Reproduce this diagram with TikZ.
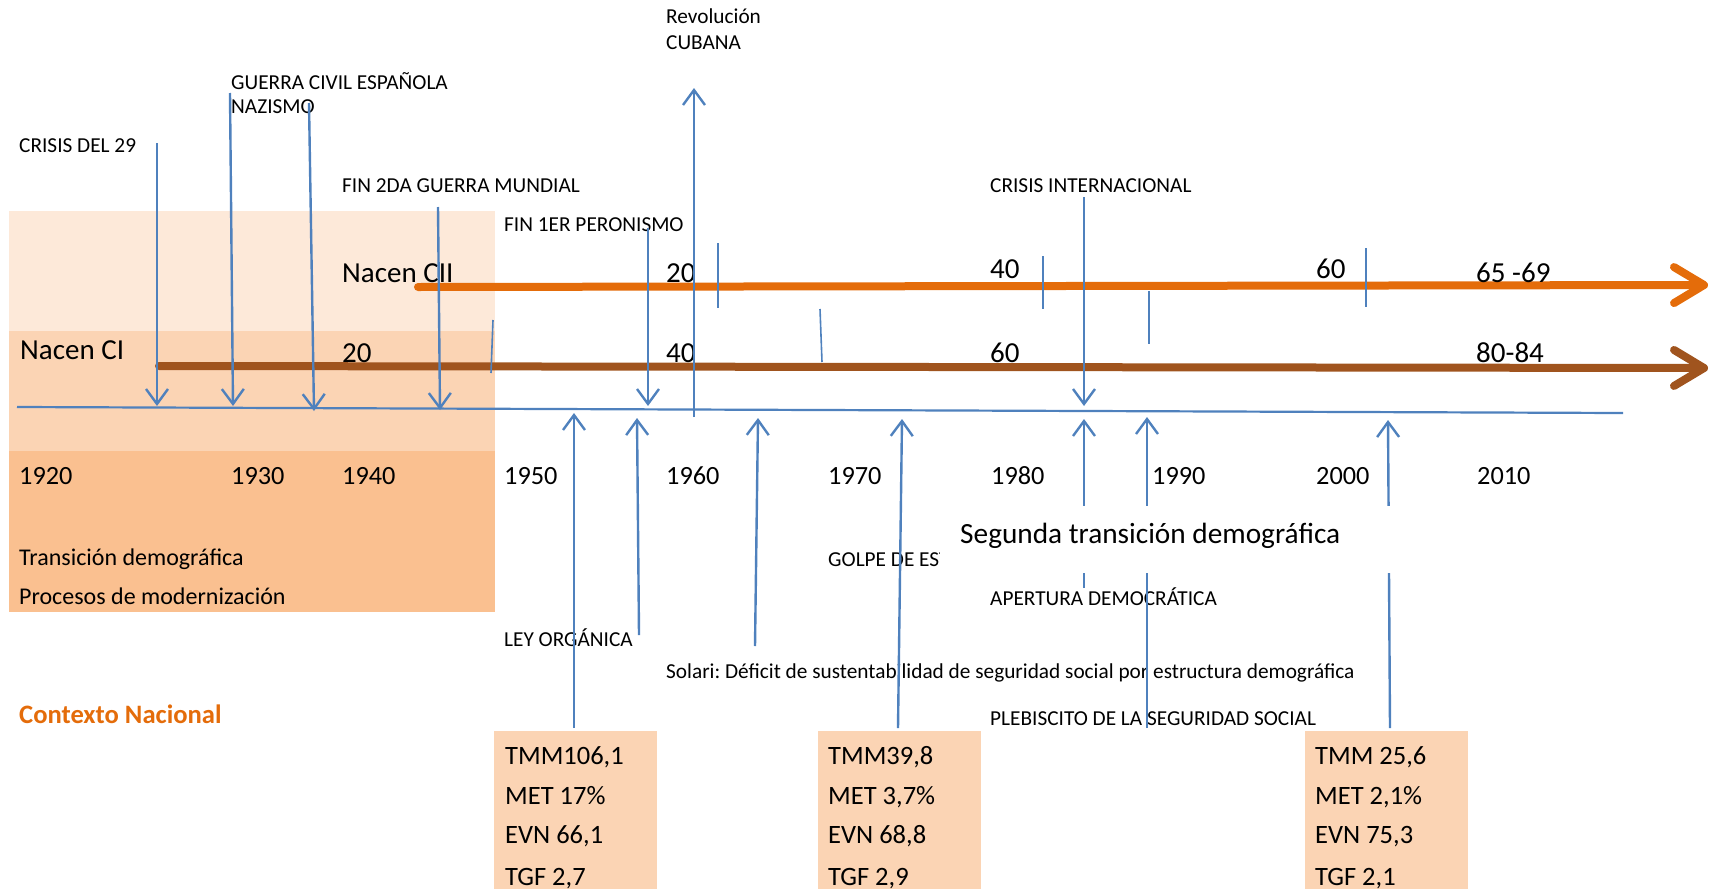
\documentclass[tikz,border=0pt]{standalone}
\usepackage{fontspec}
\setmainfont{Carlito}
\usetikzlibrary{arrows.meta}
\definecolor{bl}{HTML}{4F81BD}
\definecolor{org}{HTML}{E46C0A}
\definecolor{brn}{HTML}{A0541E}
\definecolor{pkA}{HTML}{FDE9D9}
\definecolor{pkB}{HTML}{FBD4B4}
\definecolor{pkC}{HTML}{FAC090}
\frenchspacing
\begin{document}
\begin{tikzpicture}[x=1pt,y=-1pt,
  lbl/.style={anchor=base west, inner sep=0pt, font=\fontsize{21.3}{25}\selectfont},
  yr/.style={anchor=base west, inner sep=0pt, font=\fontsize{26.3}{30}\selectfont},
  big/.style={anchor=base west, inner sep=0pt, font=\fontsize{29}{34}\selectfont},
  midtxt/.style={anchor=base west, inner sep=0pt, font=\fontsize{24}{28}\selectfont},
  bxt/.style={anchor=base west, inner sep=0pt, font=\fontsize{26.5}{30}\selectfont},
  ev/.style={draw=bl, line width=2.4pt, -{Straight Barb[length=15pt,width=22pt]}},
  tickline/.style={draw=bl, line width=1.6pt},
  life/.style={line width=8pt, line cap=round, -{Straight Barb[length=30pt,width=36pt,line cap=round,line join=round]}}
]
\useasboundingbox (0,0) rectangle (1710,889);
% background bands
\fill[pkA] (9,211) rectangle (495,331);
\fill[pkB] (9,331) rectangle (495,451);
\fill[pkC] (9,451) rectangle (495,612);
% indicator boxes
\fill[pkB] (494,731) rectangle (657,889);
\fill[pkB] (818,731) rectangle (981,889);
\fill[pkB] (1305,731) rectangle (1468,889);

% axis
\coordinate (axL) at (17,407);
\coordinate (axR) at (1623,413);
\draw[bl, line width=2.2pt] (axL) -- (axR);

% cohort lines
\coordinate (ciiL) at (418,287);
\coordinate (ciiR) at (1708,285);
\coordinate (ciL) at (159,366);
\coordinate (ciR) at (1708,368);
\draw[org, life] (ciiL) -- (ciiR);
\draw[brn, life] (ciL) -- (ciR);

% ticks
\draw[tickline] (718,243) -- (718,308);
\draw[tickline] (820,309) -- (822,362);
\draw[tickline] (1043,256) -- (1043,309);
\draw[tickline] (493,320) -- (491,373);
\draw[tickline] (1149,291) -- (1149,344);
\draw[tickline] (1366,248) -- (1366,307);

% texts (top)
\node[lbl] (rev1) at (666,23) {Revolución};
\node[lbl] (rev2) at (666,49) {CUBANA};
\node[lbl] (gce) at (231,89) {GUERRA CIVIL ESPAÑOLA};
\node[lbl] (naz) at (231,113) {NAZISMO};
\node[lbl] (c29) at (19,152) {CRISIS DEL 29};
\node[lbl] (fin2) at (342,192) {FIN 2DA GUERRA MUNDIAL};
\node[lbl] (cint) at (990,192) {CRISIS INTERNACIONAL};
\node[lbl] (fin1) at (504,231) {FIN 1ER PERONISMO};

\node[big] (ncii) at (342,282) {Nacen CII};
\node[big] (o20) at (666,282) {20};
\node[big] (o40) at (990,278) {40};
\node[big] (o60) at (1316,278) {60};
\node[big] (o65) at (1476,282) {65 -69};
\node[big] (nci) at (20,359) {Nacen CI};
\node[big] (b20) at (342,362) {20};
\node[big] (b40) at (666,362) {40};
\node[big] (b60) at (990,362) {60};
\node[big] (b80) at (1476,362) {80-84};

% years
\node[yr] (y1920) at (19,484) {1920};
\node[yr] (y1930) at (231,484) {1930};
\node[yr] (y1940) at (342,484) {1940};
\node[yr] (y1950) at (504,484) {1950};
\node[yr] (y1960) at (666,484) {1960};
\node[yr] (y1970) at (828,484) {1970};
\node[yr] (y1980) at (991,484) {1980};
\node[yr] (y1990) at (1152,484) {1990};
\node[yr] (y2000) at (1316,484) {2000};
\node[yr] (y2010) at (1477,484) {2010};

\node[midtxt] (td) at (19,565) {Transición demográfica};
\node[midtxt] (pm) at (19,604) {Procesos de modernización};
\node[lbl] (golpe) at (828,566) {GOLPE DE ESTADO};
\node[lbl] (aper) at (990,605) {APERTURA DEMOCRÁTICA};
\node[lbl] (ley) at (504,646) {LEY ORGÁNICA};
\node[lbl] (sol) at (666,678) {Solari: Déficit de sustentabilidad de seguridad social por estructura demográfica};
\node[anchor=base west, inner sep=0pt, font=\fontsize{26.6}{30}\selectfont\bfseries, text=org] (ctx) at (19,723) {Contexto Nacional};
\node[lbl] (pleb) at (990,725) {PLEBISCITO DE LA SEGURIDAD SOCIAL};

% box contents
\node[bxt] at (505,764) {TMM106,1};
\node[bxt] at (505,804) {MET 17\%};
\node[bxt] at (505,843) {EVN 66,1};
\node[bxt] at (505,885) {TGF 2,7};
\node[bxt] at (828,764) {TMM39,8};
\node[bxt] at (828,804) {MET 3,7\%};
\node[bxt] at (828,843) {EVN 68,8};
\node[bxt] at (828,885) {TGF 2,9};
\node[bxt] at (1315,764) {TMM 25,6};
\node[bxt] at (1315,804) {MET 2,1\%};
\node[bxt] at (1315,843) {EVN 75,3};
\node[bxt] at (1315,885) {TGF 2,1};

% event arrows (down)
\coordinate (a1t) at (157,143); \coordinate (a1b) at (157,406);
\coordinate (a2t) at (230,93);  \coordinate (a2b) at (233,406);
\coordinate (a3t) at (309,103); \coordinate (a3b) at (314,411);
\coordinate (a4t) at (438,207); \coordinate (a4b) at (440,410);
\coordinate (a5t) at (648,228); \coordinate (a5b) at (648,406);
\coordinate (a7t) at (1084,197); \coordinate (a7b) at (1084,406);
\draw[ev] (a1t) -- (a1b);
\draw[ev] (a2t) -- (a2b);
\draw[ev] (a3t) -- (a3b);
\draw[ev] (a4t) -- (a4b);
\draw[ev] (a5t) -- (a5b);
\draw[ev] (a7t) -- (a7b);
% Revolucion (up)
\coordinate (a6b) at (694,417); \coordinate (a6t) at (694,88);
\draw[ev] (a6b) -- (a6t);
% up arrows from below
\coordinate (u1b) at (574,728); \coordinate (u1t) at (574,413);
\coordinate (u2b) at (639,635); \coordinate (u2t) at (637,418);
\coordinate (u3b) at (755,646); \coordinate (u3t) at (758,418);
\coordinate (u4b) at (898,728); \coordinate (u4t) at (902,419);
\coordinate (u5b) at (1084,588); \coordinate (u5t) at (1084,419);
\coordinate (u6b) at (1147,728); \coordinate (u6t) at (1147,417);
\coordinate (u7b) at (1390,728); \coordinate (u7t) at (1388,420);
\draw[ev] (u1b) -- (u1t);
\draw[ev] (u2b) -- (u2t);
\draw[ev] (u3b) -- (u3t);
\draw[ev] (u4b) -- (u4t);
\draw[ev] (u5b) -- (u5t);
\draw[ev] (u6b) -- (u6t);
\draw[ev] (u7b) -- (u7t);

% second transition label box
\fill[white] (940,506) rectangle (1420,573);
\node[anchor=base west, inner sep=0pt, font=\fontsize{29.3}{34}\selectfont] (std) at (960,543) {Segunda transición demográfica};
\end{tikzpicture}
\end{document}
